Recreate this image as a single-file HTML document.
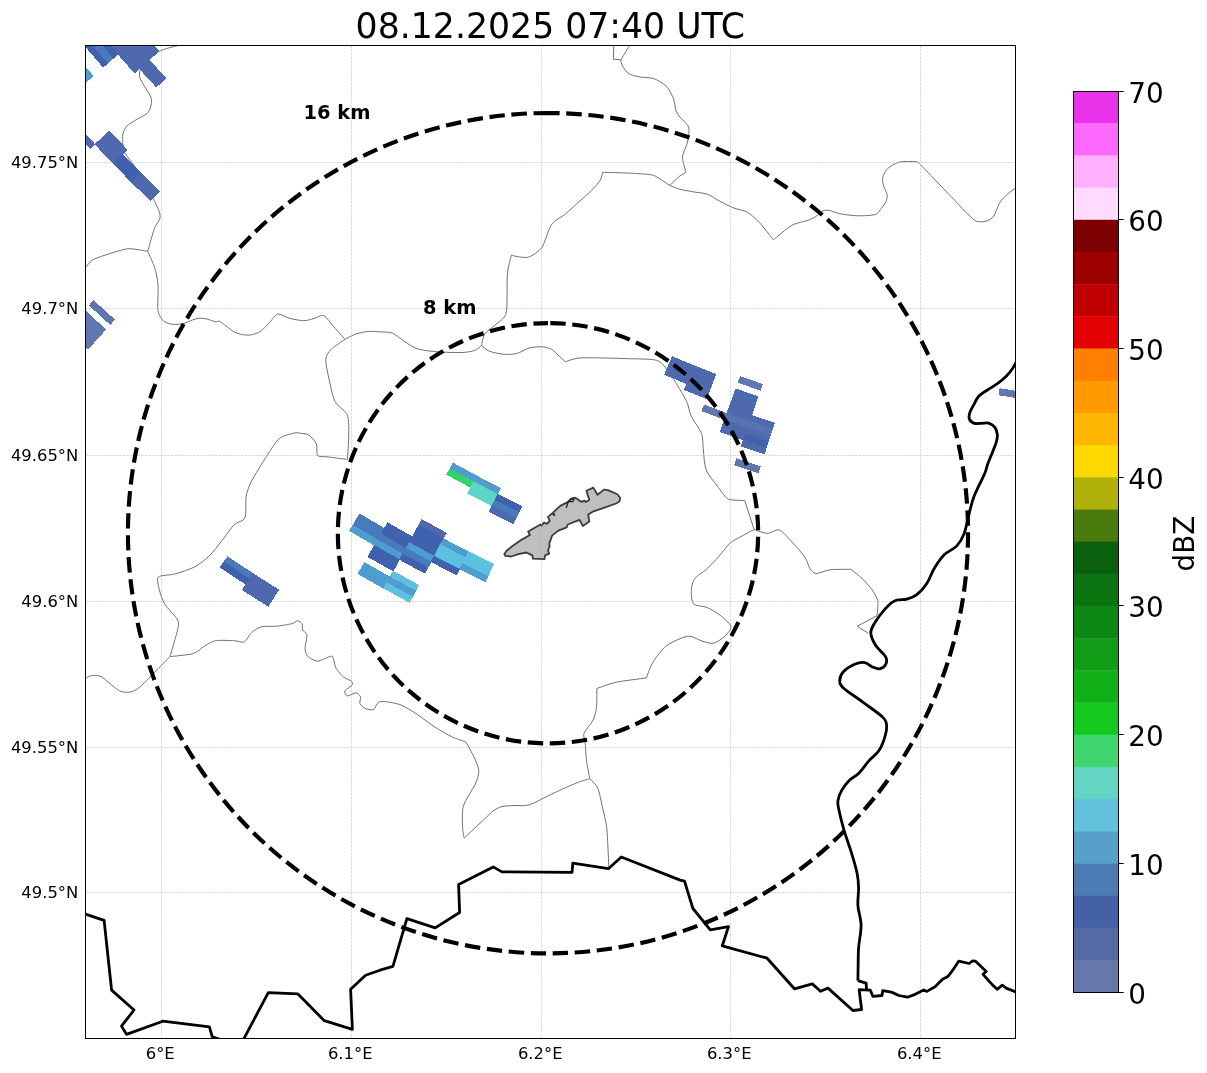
<!DOCTYPE html>
<html lang="en"><head><meta charset="utf-8"><title>08.12.2025 07:40 UTC</title>
<style>html,body{margin:0;padding:0;background:#fff}svg{display:block}text{font-family:'DejaVu Sans','Liberation Sans',sans-serif;fill:#000}</style></head><body>
<svg width="1207" height="1073" viewBox="0 0 1207 1073">
<rect width="1207" height="1073" fill="#fff"/>
<defs><clipPath id="ax"><rect x="85.5" y="45.5" width="930" height="993"/></clipPath></defs>
<text x="550.3" y="37.6" font-size="34.7" text-anchor="middle">08.12.2025 07:40 UTC</text>
<g clip-path="url(#ax)">
<g fill="none" stroke="#707070" stroke-width="1" stroke-linejoin="round">
<path d="M180.7 45 C178.6 45.5 168.5 47.8 165 49 C161.5 50.2 157.3 52.1 154.6 53.7 C151.9 55.3 146.8 59.2 145 61 C143.2 62.8 141.6 65.2 140.9 67.4 C140.2 69.6 139 74.5 139.7 77.3 C140.4 80.1 144.3 85.5 145.9 88.5 C147.5 91.5 151.3 96.6 151.6 99.7 C151.9 102.8 150.5 109.4 148.4 112.1 C146.3 114.8 138.7 118.1 135.8 120 C132.9 121.9 128.6 124.1 126.9 126 C125.2 127.9 123.4 131.5 122.9 134 C122.4 136.5 122.6 142.4 122.9 144.9 C123.2 147.4 123.2 149.8 124.9 152.9 C126.6 156 133.1 163.8 135.8 167.9 C138.5 172 142.6 179.7 145 184 C147.4 188.3 151.9 196.1 153.8 199.8 C155.7 203.5 158.5 209.2 159.3 211.7 C160.1 214.2 160.3 216.8 159.8 218.7 C159.3 220.6 156.7 224 155.8 225.7 C154.9 227.4 154.5 228.1 153.4 231.5 C152.3 234.9 148.5 248.7 147.7 251.4"/>
<path d="M147.7 251.4 C146.3 251.1 139.9 249.8 137 249.5 C134.1 249.2 130.3 248.2 126 249 C121.7 249.8 109.4 253.7 104.9 255.2 C100.4 256.7 95 258.4 92.4 260.1 C89.8 261.8 86.4 266.6 85.5 267.6"/>
<path d="M147.7 251.4 C148.6 253.6 153.2 263.1 154.6 267.6 C156 272.1 157.6 279.6 158 285 C158.4 290.4 157.6 303.8 157.8 307.9 C158 312 158.9 314 159.8 315.9 C160.7 317.8 162.8 320.8 164.7 321.9 C166.6 323 171.2 324.2 173.7 324.4 C176.2 324.6 181.2 324 183.7 323.4 C186.2 322.8 190.6 320.6 192.7 319.9 C194.8 319.2 197.5 318.3 199.4 318.2 C201.3 318.1 204.8 318.5 207 319 C209.2 319.5 214 321.6 215.6 321.9 C217.2 322.2 217.9 320.7 219.3 321.2 C220.7 321.7 224 324.6 226 326 C228 327.4 232.1 330.8 234.2 331.9 C236.3 333 240 334.1 242 334.5 C244 334.9 247.3 335.2 249.2 335.1 C251.1 335 254.3 334.1 256 333.5 C257.7 332.9 259.7 332.1 261.6 330.6 C263.5 329.1 267.8 324.2 270 322 C272.2 319.8 275.3 314.5 277.8 314 C280.3 313.5 285.5 317.3 289 318.2 C292.5 319.1 300.6 320.7 303.9 320.7 C307.2 320.7 311.3 319.2 314 318.5 C316.7 317.8 321.1 314.6 323.8 315.7 C326.5 316.8 331.2 323.9 334 327 C336.8 330.1 343.4 337.7 344.9 339.3"/>
<path d="M344.9 339.3 C346.4 338.6 352.9 335 356.1 333.9 C359.3 332.8 365.4 331.7 368.6 331.4 C371.8 331.1 376.8 331.7 380 331.9 C383.2 332.1 389.1 331.8 392.4 333.1 C395.7 334.4 401.6 339.7 404.9 341.8 C408.2 343.9 413 347.5 417.3 348.8 C421.6 350.1 431.2 351.3 437.2 351.8 C443.2 352.3 457.1 352.7 462.1 352.5 C467.1 352.3 471.9 351.4 474.5 350.5 C477.1 349.6 480.6 346.3 481.5 345.6"/>
<path d="M344.9 339.3 C343.1 340.6 333.7 346.6 331.2 349.3 C328.7 352 326.1 355.4 325.8 359.2 C325.5 363 327.6 372.3 328.8 377.9 C330 383.5 332.5 396.5 335 401.5 C337.5 406.5 345.6 410.5 347.4 415.2 C349.2 419.9 348.7 430.5 348.7 436.4 C348.7 442.3 347.6 456.4 347.4 459.5"/>
<path d="M347.4 459.5 C345.9 459.3 338.9 458.4 336.2 458 C333.5 457.6 329.5 457.1 327 456.8 C324.5 456.5 319 457.2 317.6 455.5 C316.2 453.8 317.5 446.5 316.3 443.8 C315.1 441.1 310.9 436.5 308.9 435.1 C306.9 433.7 303 433.6 301 433.3 C299 433 296.8 432.4 293.9 433.1 C291 433.8 282.6 435.7 279 438.8 C275.4 441.9 270.3 450.7 266.6 456.3 C262.9 461.9 254.3 475.8 251.6 481.1 C248.9 486.4 247.1 491.2 246.2 496.1 C245.3 501 246.5 514.1 244.9 517.9 C243.3 521.7 237.3 521.6 234.2 524.7 C231.1 527.8 225.1 536.7 221.8 540.8 C218.5 544.9 213.1 552.3 209.4 555.8 C205.7 559.3 199.1 564.6 194.4 567 C189.7 569.4 179.3 572.7 174.5 574 C169.7 575.3 160.5 575 158.4 577 C156.3 579 158.3 585.3 159.1 588.9 C159.9 592.5 162.2 599.9 164.6 603.9 C167 607.9 175.2 615.8 177 618.8 C178.8 621.8 178.6 623.2 178.3 626.2 C178 629.2 175.6 637.1 174.5 641.2 C173.4 645.3 170.6 654.5 170 656.6"/>
<path d="M170 656.6 C167.9 658.7 158.6 668.2 154.6 672.3 C150.6 676.4 143 684.5 139.7 687.2 C136.4 689.9 132.5 691.7 129.8 692.2 C127.1 692.7 122.5 692.1 119.8 690.9 C117.1 689.7 112.4 685.4 109.9 683.5 C107.4 681.6 103.4 677.6 101.1 676.5 C98.8 675.4 94.5 675.3 92.4 675.5 C90.3 675.7 86.4 677.7 85.5 678"/>
<path d="M170 656.6 C173.1 656.2 188.6 655 193.2 653.6 C197.8 652.2 201.4 647.8 204.4 646.1 C207.4 644.4 211.6 641.4 215.6 640.7 C219.6 640 230.4 640.5 234.2 640.7 C238 640.9 241.9 643 244.2 641.9 C246.5 640.8 249.3 634.5 251.6 632.5 C253.9 630.5 258.3 627.5 261.6 626.7 C264.9 625.9 272.5 626.6 276.5 626.2 C280.5 625.8 288.6 624.5 291.4 623.8 C294.2 623.1 296.3 620.8 297.7 620.8 C299.1 620.8 301.4 622.6 302.1 623.8 C302.8 625 302 628.5 302.6 630 C303.2 631.5 306.6 632.4 306.9 634.9 C307.2 637.4 305 645.8 305.1 648.6 C305.2 651.4 305.9 654.4 307.6 656.1 C309.3 657.8 314.5 661.1 317.6 661.1 C320.7 661.1 329.1 656.3 331.2 656.1 C333.3 655.9 333 658.1 333.7 659.8 C334.4 661.5 334.9 666.2 336.2 668.5 C337.5 670.8 341.7 675.5 343.7 677.2 C345.7 678.9 349.9 680 351.1 681 C352.3 682 353.2 683.4 352.4 684.7 C351.6 686 345.6 689.4 344.9 690.9 C344.2 692.4 345.9 695.6 347.4 695.9 C348.9 696.2 354.3 692.7 356.1 692.9 C357.9 693.1 360.1 695.7 360.6 697.1 C361.1 698.5 359.3 701.9 359.9 703.4 C360.5 704.9 363 707.5 364.8 708.3 C366.6 709.1 371.5 710.5 373.5 709.6 C375.5 708.7 376.5 702.3 380 701.6 C383.5 700.9 394.9 702.9 399.9 704.6 C404.9 706.3 412.7 711.5 417.3 714.5 C421.9 717.5 430.1 724 434.7 727 C439.3 730 448 734.9 452.1 736.9 C456.2 738.9 464 741.2 465.8 741.9 C467 744.1 472.8 754.3 474.5 758.1 C476.2 761.9 478.6 767.2 478.8 770.5 C479 773.8 477.5 779 475.8 783 C474.1 787 467.6 796.8 465.8 800.4 C464 804 463 806.7 462.6 810.3 C462.2 813.9 462.4 824 462.6 827.7 C462.8 831.4 463.9 836.8 464.1 838.2"/>
<path d="M464.1 838.2 C466.8 835.6 480.6 822.6 484.5 819 C488.4 815.4 490.7 812.7 493 811 C495.3 809.3 499 807.3 501.9 806.6 C504.8 805.9 511.3 805.7 515 805.5 C518.7 805.3 524.1 806.5 529.3 804.8 C534.5 803.1 547.8 795.8 554.1 792.9 C560.4 790 571.8 784.9 576.5 783 C581.2 781.1 587.9 779.3 589.7 778.7"/>
<path d="M589.7 778.7 C589.3 776.3 587.1 765.3 586.5 760.6 C585.9 755.9 585.5 746.9 585.2 743.2 C584.9 739.5 583 736.2 584 733.2 C585 730.2 591 724.1 592.7 720.8 C594.4 717.5 595.8 712.6 596.4 708.3 C597 704 596.8 691.1 596.9 688.4 C599.5 687.6 609.7 683.6 616.3 682.2 C622.9 680.8 642.2 678.6 646.2 678 C647.2 675.7 650.9 665.4 653.6 661.1 C656.3 656.8 662.6 649.1 666.1 646.1 C669.6 643.1 676.8 640 680 638.7 C683.2 637.4 687 635.9 690 636.2 C693 636.5 699.3 640.3 702.4 641.2 C705.5 642.1 710.6 643.9 713.6 643.2 C716.6 642.5 722.5 638.5 724.8 636.2 C727.1 633.9 731.7 629 731 626.2 C730.3 623.4 722.9 617.5 719.8 615 C716.7 612.5 710.9 609.1 707.4 607.6 C703.9 606.1 695.9 606.1 693.7 603.9 C691.5 601.7 691.2 594.6 691.2 591.4 C691.2 588.2 692.5 582.5 693.7 580.2 C694.9 577.9 698.4 575.3 699.9 574 C701.4 572.7 702.6 572.8 704.9 570.7 C707.2 568.6 714 561.9 717.3 558.2 C720.6 554.5 726.5 546.3 729.8 543.3 C733.1 540.3 739 537.7 742.2 535.9 C745.4 534.1 752.5 530.4 754.1 529.6"/>
<path d="M589.7 778.7 C590.8 779.9 596 784 597.7 787.9 C599.4 791.8 601.4 802.8 602.6 807.8 C603.8 812.8 605.7 820.8 606.4 825.2 C607.1 829.6 607.3 835.2 607.6 840.8 C607.9 846.4 608.7 863.4 608.9 866.9"/>
<path d="M613.8 45 L613.3 59.2 L620.8 59.9 C621.8 58.2 627.2 49.5 628.3 47.5 C629.4 45.5 628.7 45.3 628.8 45"/>
<path d="M620.8 59.9 C621 60.7 621.4 64.3 622.5 66.1 C623.6 67.9 626.6 72.2 628.8 73.6 C631 75 635.4 76.1 638.7 76.8 C642 77.5 649.9 77.4 653.6 78.6 C657.3 79.8 663.4 83.3 666.1 86 C668.8 88.7 672.2 95.2 673.5 98.5 C674.8 101.8 675.1 108.4 676 110.9 C676.9 113.4 678.3 114.9 680 117.1 C681.7 119.3 687.7 123.8 688.7 127.1 C689.7 130.4 688.3 138 687.5 142 C686.7 146 682.8 152.9 682.5 156.9 C682.2 160.9 685.8 169.3 685.5 171.8 C685.2 174.3 682.1 174 680 175.8 C677.9 177.6 671.2 184.2 669.8 185.5"/>
<path d="M481.5 345.6 C481.9 344.1 482.8 337.1 484.5 334.4 C486.2 331.7 491.7 328 494.4 325.7 C497.1 323.4 502.7 319.5 504.4 317 C506.1 314.5 506.5 312.8 506.9 307 C507.3 301.2 506.8 280.7 507.4 273.8 C508 266.9 510.8 257.7 511.3 255.2 C512.4 255.4 516.9 256.7 519.3 256.9 C521.7 257.1 526.3 258.1 529.3 256.9 C532.3 255.7 539 251.4 541.7 247.7 C544.4 244 547.5 232.6 549.2 229.1 C550.9 225.6 552 223.6 554.1 221.6 C556.2 219.6 562 216.8 565.3 214.1 C568.6 211.4 575.5 204.8 579 201.7 C582.5 198.6 588.6 193.3 591.4 190.5 C594.2 187.7 598.6 182.9 600.1 180.5 C601.6 178.1 602.3 173.4 602.6 172.3 C606.1 172.4 622.3 172.8 628.8 173.1 C635.3 173.4 647.1 174.1 651.1 174.8 C655.1 175.5 656.1 176.7 658.6 178.1 C661.1 179.5 668.3 184.5 669.8 185.5"/>
<path d="M669.8 185.5 C671.2 186 677 188.5 680 189.3 C683 190.1 688.7 191 692.4 191.7 C696.1 192.4 703.7 192.9 707.4 194.2 C711.1 195.5 716.3 199.4 719.8 201.2 C723.3 203 729.8 206.4 733.5 207.9 C737.2 209.4 743.7 210.1 747.2 212.1 C750.7 214.1 756.1 219.1 759.6 222.8 C763.1 226.5 771.5 237.5 773.3 239.8 C775.8 237.9 787.3 227.9 791.9 225.3 C796.5 222.7 804.9 221.5 808.1 220.3 C811.3 219.1 813.6 217.9 815.6 216.6 C817.6 215.3 821.2 211.7 823 210.9 C824.8 210.1 827.1 210 829.3 210.4 C831.5 210.8 835.9 212.9 839.2 213.6 C842.5 214.3 850.4 215.3 854.1 215.6 C857.8 215.9 863.6 215.8 866.6 215.6 C869.6 215.4 874.7 214.9 876.5 214.1 C878.3 213.3 878.8 211.5 880 209.9 C881.2 208.3 884.6 204.4 885.6 202.4 C886.6 200.4 887.5 197.2 887.2 195 C886.9 192.8 884.3 188.5 883.7 186.2 C883.1 183.9 882.2 179.8 882.7 177.5 C883.2 175.2 885.5 170.7 887.5 168.7 C889.5 166.7 895.2 163.7 897.5 162.7 C899.8 161.7 902.5 161.6 905 161.5 C907.5 161.4 914.5 161.5 916.2 161.6 C917.9 161.7 917.8 162.1 918.1 162.2"/>
<path d="M918.1 162.2 C921 165.2 933.4 178.1 940 185 C946.6 191.9 963.7 209.9 967.4 213.7"/>
<path d="M967.4 213.7 C968.6 214.7 973.7 220.2 976.2 221.2 C978.7 222.2 983.9 221.9 986.2 221.2 C988.5 220.5 991.8 218.7 993.6 216.2 C995.4 213.7 998.1 205.3 999.9 202.4 C1001.7 199.5 1005.3 196.2 1007.4 194.3 C1009.5 192.4 1014.4 188.9 1015.5 188.1"/>
<path d="M481.5 345.6 C482.6 346.4 486.4 350.1 489.5 351.3 C492.6 352.5 500.8 354 504.4 354.3 C508 354.6 513.5 354.3 516.8 353.5 C520.1 352.7 526 348.9 529.3 348 C532.6 347.1 538.7 346.6 541.7 346.8 C544.7 347 549.4 348.2 551.6 349.3 C553.8 350.4 556.2 353.3 558 355 C559.8 356.7 564.3 360.8 565.3 361.7 C567.1 361.2 573.9 358.5 579 358 C584.1 357.5 597.3 357.9 603.9 358 C610.5 358.1 622.2 358.5 628.8 358.7 C635.4 358.9 649.2 359 653.6 359.7 C658 360.4 659.5 361.2 662 363.6 C664.5 366 669.2 372.6 672.5 377.6 C675.8 382.6 683.9 395.8 686.4 400.9 C688.9 406 689.1 411.7 691.1 416 C693.1 420.3 700 429 701.6 433.5 C703.2 438 702.7 444.9 703.3 449.8 C703.9 454.7 704.3 465.2 706.2 470 C708.1 474.8 714.5 482.3 717.3 486.1 C720.1 489.9 724.8 496.6 727.3 498.5 C729.8 500.4 733.7 499.9 736 500.2 C738.3 500.5 743.5 500.5 744.7 500.5"/>
<path d="M744.7 500.5 L754.1 529.6"/>
<path d="M754.1 529.6 C755.8 530.1 763.7 533.3 767.1 533.4 C770.5 533.5 776.1 528.9 779.5 530.1 C782.9 531.3 789 538.8 792.4 542.4 C795.8 546 802.6 553.8 804.9 557.3 C807.2 560.8 808.4 566.3 809.9 568.5 C811.4 570.7 813.4 573.3 816.1 573.5 C818.8 573.7 825.2 570.4 829.8 569.8 C834.4 569.2 848.1 569.4 850.9 569.3"/>
<path d="M850.9 569.3 C852.4 570.5 859.3 575.8 862.1 578.5 C864.9 581.2 869.9 586.7 872 589.7 C874.1 592.7 877.1 597.4 877.8 600.9 C878.5 604.4 877.1 613.8 877 615.8"/>
<path d="M877 615.8 L857.1 626.2"/>
<path d="M857.1 626.2 L868.3 633.2"/>
</g>
<path d="M504.3 554.2 L506.6 550.7 L512.5 546 L521.8 539.6 L529.9 535 L528.2 531.5 L540.4 524.5 L541.6 525.7 L543.9 522.5 L546.8 523.9 L549.7 521 L548 516.9 L552.1 513.4 L554.4 515.2 L553.2 512.3 L560.2 505.9 L567.2 502.4 L571.9 498.3 L575.4 497.7 L581.2 501.8 L584.7 500.6 L585.8 502 L589.3 500 L586.4 490.7 L593.4 487.6 L597.5 494.8 L603.9 489.6 L608 490.1 L617.3 494.2 L620.2 497.7 L619.6 501.2 L616.1 503.5 L604.5 507.6 L592.8 511.7 L588.2 514.6 L589.3 521.6 L582.9 526 L579.4 519.8 L567.8 524.5 L566.6 527.4 L557.9 530.9 L552.1 535.6 L549.2 543.7 L549.7 546 L548 550.7 L549.2 553.6 L545.1 555.4 L544.5 559.1 L532.9 558.6 L532.3 555.4 L526.4 552.5 L518.3 554.2 L511.3 556.5 L505.5 555.9Z" fill="#bfbfbf" stroke="#3c3c3c" stroke-width="1.8" stroke-linejoin="round"/>
<path d="M566.3 507.8 L567.8 503 L570.7 499.1 L574 499.2 L572.8 501.8 L569.5 501.3" fill="none" stroke="#222" stroke-width="1.3"/>
<g stroke="#b0b0b0" stroke-opacity="0.62" stroke-width="0.75" stroke-dasharray="2.7 1.0" fill="none">
<path d="M161.5 45.5 V1038.5"/>
<path d="M351.5 45.5 V1038.5"/>
<path d="M541.5 45.5 V1038.5"/>
<path d="M730.5 45.5 V1038.5"/>
<path d="M920.5 45.5 V1038.5"/>
<path d="M85.5 162.5 H1015.5"/>
<path d="M85.5 308.5 H1015.5"/>
<path d="M85.5 455.5 H1015.5"/>
<path d="M85.5 601.5 H1015.5"/>
<path d="M85.5 747.5 H1015.5"/>
<path d="M85.5 892.5 H1015.5"/>
</g>
<g stroke="none" shape-rendering="crispEdges">
<path d="M142.8 32.4 L159.4 51.2 L134.6 73.5 L117.6 54.3Z" fill="#4e69ad"/>
<path d="M126.9 13.8 L143.1 32.8 L118 54.7 L101.3 35.2Z" fill="#4e69ad"/>
<path d="M149.2 59.5 L166.3 78.2 L156.3 87.5 L139.1 68.7Z" fill="#4e69ad"/>
<path d="M101.7 34.9 L118.4 54.4 L103.1 67.7 L86.2 47.9Z" fill="#4061ad"/>
<path d="M85.8 15.5 L102.1 35.3 L86.6 48.3 L70 28.2Z" fill="#4061ad"/>
<path d="M96.7 39.1 L113.4 58.7 L108.1 63.3 L91.2 43.6Z" fill="#477bbd"/>
<path d="M76.5 56 L93.6 76 L83.3 84.9 L66.1 64.8Z" fill="#4f9cd0"/>
<path d="M109.3 130.5 L127.7 149.9 L113.2 163.9 L94.5 144.3Z" fill="#4e69ad"/>
<path d="M122.5 154 L141.3 173.1 L131.7 182.8 L112.7 163.5Z" fill="#4061ad"/>
<path d="M140.9 172.7 L160 191.5 L150.5 201.3 L131.2 182.3Z" fill="#4e69ad"/>
<path d="M77.1 124.5 L95.3 144.4 L90.2 149.2 L71.8 129.2Z" fill="#4e69ad"/>
<path d="M93.6 300.1 L115 319.7 L110.3 325 L88.8 305.3Z" fill="#5f76b0"/>
<path d="M84.6 309.7 L106.2 329.5 L88.3 349.4 L66.4 329.3Z" fill="#5f76b0"/>
<path d="M227.4 556.2 L253.4 573.4 L249.6 579.3 L223.5 562Z" fill="#477bbd"/>
<path d="M223.8 561.6 L249.8 578.9 L246 584.8 L219.8 567.5Z" fill="#4061ad"/>
<path d="M252.8 573 L279.1 589.7 L268.4 606.8 L241.8 589.9Z" fill="#4e69ad"/>
<path d="M476.6 475.5 L501.1 488.3 L497.9 494.6 L473.3 481.8Z" fill="#4f9cd0"/>
<path d="M453 462.6 L477.2 475.8 L473.9 482.1 L449.5 468.8Z" fill="#4f9cd0"/>
<path d="M449.8 468.4 L474.1 481.6 L470.8 487.9 L446.3 474.6Z" fill="#32d46a"/>
<path d="M473.6 481.3 L498.1 494.1 L492 506.3 L467.1 493.4Z" fill="#5bd5c4"/>
<path d="M497.6 493.8 L522.4 506.2 L519.3 512.5 L494.4 500.1Z" fill="#4061ad"/>
<path d="M494.6 499.7 L519.5 512.1 L516.4 518.5 L491.4 506Z" fill="#477bbd"/>
<path d="M491.6 505.5 L516.6 518 L513.5 524.4 L488.4 511.8Z" fill="#4e69ad"/>
<path d="M359.5 513.5 L384.7 528.3 L377.9 540.1 L352.5 525.2Z" fill="#477bbd"/>
<path d="M352.7 524.8 L378.1 539.7 L374.6 545.8 L349.1 530.8Z" fill="#4f9cd0"/>
<path d="M387.4 522.3 L412.7 536.6 L406.1 548.6 L380.6 534.1Z" fill="#4061ad"/>
<path d="M380.8 533.7 L406.3 548.1 L402.9 554.3 L377.3 539.8Z" fill="#477bbd"/>
<path d="M377.5 539.4 L403.2 553.9 L399.7 560 L374 545.5Z" fill="#4f9cd0"/>
<path d="M374.2 545 L400 559.6 L393.4 571.5 L367.4 556.9Z" fill="#4061ad"/>
<path d="M364.4 562.1 L390.4 576.9 L383.8 588.8 L357.5 573.9Z" fill="#4f9cd0"/>
<path d="M421.7 519.1 L446.9 532.8 L443.6 539 L418.2 525.2Z" fill="#4e69ad"/>
<path d="M418.5 524.8 L443.9 538.6 L434.4 556.4 L408.7 542.5Z" fill="#4061ad"/>
<path d="M408.9 542 L434.6 556 L431.3 562.2 L405.5 548.2Z" fill="#4f9cd0"/>
<path d="M405.7 547.8 L431.5 561.8 L428.2 568 L402.3 554Z" fill="#477bbd"/>
<path d="M402.6 553.5 L428.4 567.6 L425.1 573.8 L399.1 559.7Z" fill="#4061ad"/>
<path d="M393 570.8 L419.2 585 L415.9 591.2 L389.6 576.9Z" fill="#5cc1e0"/>
<path d="M389.8 576.5 L416.1 590.8 L412.8 597 L386.4 582.7Z" fill="#4f9cd0"/>
<path d="M386.6 582.3 L413 596.6 L409.7 602.8 L383.2 588.4Z" fill="#5cc1e0"/>
<path d="M443.3 538.3 L468.9 551.6 L465.7 557.9 L439.9 544.5Z" fill="#4f9cd0"/>
<path d="M440.2 544.1 L465.9 557.4 L459.7 569.6 L433.8 556.1Z" fill="#5cc1e0"/>
<path d="M434 555.7 L459.9 569.2 L456.7 575.5 L430.7 561.9Z" fill="#4061ad"/>
<path d="M468.3 551.3 L494.1 564.2 L488.1 576.4 L462.1 563.4Z" fill="#5cc1e0"/>
<path d="M462.3 563 L488.3 576 L485.3 582.3 L459.1 569.3Z" fill="#4f9cd0"/>
<path d="M740.1 376 L762.8 384.1 L760.5 390.7 L737.7 382.7Z" fill="#5f76b0"/>
<path d="M693.8 365.2 L716.3 374.1 L706.7 399.1 L683.8 390Z" fill="#4e69ad"/>
<path d="M672 356.2 L694.4 365.4 L686.8 384.2 L664.1 374.7Z" fill="#4e69ad"/>
<path d="M735.6 388.4 L758.5 396.5 L756.2 403.2 L733.2 395Z" fill="#4a6ab4"/>
<path d="M733.4 394.5 L756.4 402.7 L749.8 421.8 L726.4 413.5Z" fill="#4e69ad"/>
<path d="M726.6 413 L749.9 421.3 L747.6 428 L724.2 419.7Z" fill="#5873b4"/>
<path d="M724.4 419.2 L747.8 427.5 L743.3 440.4 L719.7 432Z" fill="#4e69ad"/>
<path d="M751.5 414.9 L774.9 422.8 L772.7 429.5 L749.2 421.6Z" fill="#4e69ad"/>
<path d="M749.4 421.1 L772.9 429 L770.7 435.7 L747.1 427.8Z" fill="#5873b4"/>
<path d="M747.2 427.3 L770.8 435.3 L768.6 442 L744.9 434Z" fill="#4e69ad"/>
<path d="M745.1 433.6 L768.8 441.5 L766.6 448.2 L742.8 440.2Z" fill="#4061ad"/>
<path d="M742.9 439.8 L766.7 447.8 L764.6 454.5 L740.6 446.4Z" fill="#4e69ad"/>
<path d="M704 404.5 L727.2 413.2 L724.7 419.9 L701.4 411.1Z" fill="#5f76b0"/>
<path d="M736.5 458.4 L760.6 466.5 L758.5 473.2 L734.2 465.1Z" fill="#5f76b0"/>
<path d="M999.6 388.3 L1022.4 391.7 L1021.4 398.7 L998.5 395.3Z" fill="#5f76b0"/>
</g>
<g fill="none" stroke="#000" stroke-width="2.8" stroke-linejoin="round" stroke-linecap="butt">
<path d="M85.5 914.2 L104.1 920.4 L111.6 990.1 L134 1010 L121.5 1026.1 L126.5 1034.4 L162.8 1021.2 L209.4 1026.9 L212.3 1036.8 L222 1040"/>
<path d="M243.2 1040 L268.3 992.6 L297.7 993.8 L324.3 1020.7 L352.4 1029.4 L350.6 989.3 L365.6 975.2 L380 970.2 L392.9 966.4 L406.9 918.7 L435.2 927.9 L459.6 912.5 L458.6 884.4 L493.2 866.9 L501.9 871.9 L572 872.4 L572.8 863.2 L608.4 868.7 L621.3 857 L680.2 880.1 L684.5 881.1 L692.9 908.5 L710.3 929.9 L728.5 926.6 L722.3 945.8 L767.1 958.2 L794.4 988.8 L812.3 983.9 L820.5 991.3 L828 988.1 L852.9 1010.5 L861.6 1009.5 L859.1 989.6 L870.3 990.1 L872.8 996.3 L882 995.5 L882.7 990.6 L891.4 992.1 L898.9 995.5 L907.5 997.2 L913.7 994.9 L923.7 989.9 L926.9 991.4 L935 986.8 L942.5 979.3 L947.5 976.8 L952.5 970.6 L958.7 961.2 L969.3 963.5 L972.4 961 L975.6 961.2 L986.2 971.5 L983.1 974.3 L992.4 984.9 L997.2 989.3 L1002.2 985.2 L1006.2 988.1 L1017 992.4"/>
<path d="M1017 360.5 C1016.2 361.9 1014.2 366.1 1012.4 368.7 C1010.6 371.3 1008.7 373.7 1006.2 376.2 C1003.7 378.7 1000.5 381.4 997.4 383.7 C994.3 386 990.5 387.9 987.4 390 C984.3 392.1 981 393.7 978.7 396.2 C976.4 398.7 975.2 402.2 973.7 404.9 C972.2 407.6 970.6 410.1 969.9 412.4 C969.2 414.7 968.7 416.9 969.3 418.7 C969.9 420.5 971.7 422.3 973.7 423.1 C975.7 423.9 978.7 423.4 981.2 423.4 C983.7 423.4 986.4 422.4 988.7 423.1 C991 423.8 993.5 425.4 994.9 427.4 C996.3 429.4 997.2 432.4 997.4 434.9 C997.6 437.4 997 439.5 996.2 442.4 C995.4 445.3 993.9 448.6 992.4 452.4 C990.9 456.1 988.7 461.3 987.4 464.9 C986.1 468.5 986.7 468.8 984.5 474 C982.3 479.2 976.6 489.8 974 496.4 C971.4 503 970.8 507.6 969.1 513.8 C967.5 520 966.2 528.3 964.1 533.7 C962 539.1 959.9 542.6 956.6 546.1 C953.3 549.6 947.9 551.1 944.2 554.8 C940.5 558.5 937.1 563.7 934.2 568.5 C931.3 573.3 929.7 579.1 926.8 583.5 C923.9 587.9 920.1 592 916.8 594.6 C913.5 597.2 910.6 598.1 906.9 599.1 C903.2 600.1 898.1 599.1 894.4 600.9 C890.7 602.6 887.8 605.9 884.5 609.6 C881.2 613.3 876.8 619.4 874.5 623.3 C872.2 627.2 870.6 629.5 870.8 633.2 C871 636.9 873.3 641.7 875.8 645.6 C878.3 649.5 884.1 653.7 885.7 656.8 C887.4 659.9 886.7 662.3 885.7 664.3 C884.7 666.3 881.8 668.4 879.5 668.8 C877.2 669.2 874.5 667.8 872 666.8 C869.5 665.8 867.5 663 864.6 662.6 C861.7 662.2 858.1 662.8 854.6 664.3 C851.1 665.8 845.9 669.1 843.4 671.8 C840.9 674.5 839.7 677.8 839.7 680.5 C839.7 683.2 839.7 684.4 843.4 687.9 C847.1 691.4 855.7 696.8 862.1 701.6 C868.5 706.4 877.9 712.7 882 716.5 C886.1 720.3 886 721.3 886.5 724.5 C887 727.7 886.5 731.4 885.2 735.7 C884 740.1 881.7 746.5 879 750.6 C876.3 754.8 872.4 756.9 869.1 760.6 C865.8 764.3 862.4 769.7 859.1 773 C855.8 776.3 852.1 777.6 849.2 780.5 C846.3 783.4 843.6 787.1 841.7 790.4 C839.8 793.7 838.5 797.5 838 800.4 C837.5 803.3 837.5 802.9 838.5 808 C839.5 813.1 842 823.4 844.2 830.9 C846.4 838.4 849.5 846.2 851.6 853.3 C853.8 860.3 855.9 867.4 857.1 873.2 C858.3 879 858.5 882.7 858.6 888.1 C858.7 893.5 857.5 899.3 857.9 905.5 C858.3 911.7 861 918.4 861.1 925.4 C861.2 932.4 859.1 940.8 858.6 947.8 C858.1 954.8 858.2 962.2 858.1 967.7 C858 973.2 857.9 978.5 857.9 980.6"/>
<path d="M857.9 980.6 L866.1 983.1 L866.6 989.9"/>
</g>
<g fill="none" stroke="#000" stroke-width="4.17" stroke-dasharray="15.417 6.667" stroke-dashoffset="0.8">
<path d="M548.000 113.000 A420.200 420.200 0 0 0 548.000 953.400 A420.200 420.200 0 0 0 548.000 113.000"/>
<path d="M548.000 323.050 A210.150 210.150 0 0 0 548.000 743.350 A210.150 210.150 0 0 0 548.000 323.050"/>
</g>
<text x="303.5" y="118.6" font-size="19.44" font-weight="bold">16 km</text>
<text x="423" y="313.6" font-size="19.44" font-weight="bold">8 km</text>
</g>
<rect x="85.5" y="45.5" width="930" height="993" fill="none" stroke="#000" stroke-width="1"/>
<text x="160.2" y="1059.2" font-size="16.4" text-anchor="middle">6°E</text>
<text x="350.2" y="1059.2" font-size="16.4" text-anchor="middle">6.1°E</text>
<text x="540.2" y="1059.2" font-size="16.4" text-anchor="middle">6.2°E</text>
<text x="729.2" y="1059.2" font-size="16.4" text-anchor="middle">6.3°E</text>
<text x="919.2" y="1059.2" font-size="16.4" text-anchor="middle">6.4°E</text>
<text x="78.3" y="167.8" font-size="16.4" text-anchor="end">49.75°N</text>
<text x="78.3" y="313.8" font-size="16.4" text-anchor="end">49.7°N</text>
<text x="78.3" y="460.8" font-size="16.4" text-anchor="end">49.65°N</text>
<text x="78.3" y="606.8" font-size="16.4" text-anchor="end">49.6°N</text>
<text x="78.3" y="752.8" font-size="16.4" text-anchor="end">49.55°N</text>
<text x="78.3" y="897.8" font-size="16.4" text-anchor="end">49.5°N</text>
<rect x="1073.5" y="91.10" width="45" height="32.58" fill="#eb32eb"/>
<rect x="1073.5" y="123.28" width="45" height="32.58" fill="#fd69fd"/>
<rect x="1073.5" y="155.46" width="45" height="32.58" fill="#ffb0ff"/>
<rect x="1073.5" y="187.64" width="45" height="32.58" fill="#ffdcff"/>
<rect x="1073.5" y="219.81" width="45" height="32.58" fill="#7d0000"/>
<rect x="1073.5" y="251.99" width="45" height="32.58" fill="#9e0000"/>
<rect x="1073.5" y="284.17" width="45" height="32.58" fill="#c00000"/>
<rect x="1073.5" y="316.35" width="45" height="32.58" fill="#e40000"/>
<rect x="1073.5" y="348.53" width="45" height="32.58" fill="#ff7f00"/>
<rect x="1073.5" y="380.71" width="45" height="32.58" fill="#ff9b00"/>
<rect x="1073.5" y="412.89" width="45" height="32.58" fill="#ffb600"/>
<rect x="1073.5" y="445.06" width="45" height="32.58" fill="#ffd800"/>
<rect x="1073.5" y="477.24" width="45" height="32.58" fill="#afb10a"/>
<rect x="1073.5" y="509.42" width="45" height="32.58" fill="#4a7a0c"/>
<rect x="1073.5" y="541.60" width="45" height="32.58" fill="#0a600e"/>
<rect x="1073.5" y="573.78" width="45" height="32.58" fill="#0c7410"/>
<rect x="1073.5" y="605.96" width="45" height="32.58" fill="#0e8814"/>
<rect x="1073.5" y="638.14" width="45" height="32.58" fill="#109c16"/>
<rect x="1073.5" y="670.31" width="45" height="32.58" fill="#12b018"/>
<rect x="1073.5" y="702.49" width="45" height="32.58" fill="#14c81c"/>
<rect x="1073.5" y="734.67" width="45" height="32.58" fill="#3fd56f"/>
<rect x="1073.5" y="766.85" width="45" height="32.58" fill="#62d6c2"/>
<rect x="1073.5" y="799.03" width="45" height="32.58" fill="#64c1dc"/>
<rect x="1073.5" y="831.21" width="45" height="32.58" fill="#589fc9"/>
<rect x="1073.5" y="863.39" width="45" height="32.58" fill="#4b7cb5"/>
<rect x="1073.5" y="895.56" width="45" height="32.58" fill="#4561a5"/>
<rect x="1073.5" y="927.74" width="45" height="32.58" fill="#546aa5"/>
<rect x="1073.5" y="959.92" width="45" height="32.58" fill="#6677a9"/>
<rect x="1073.5" y="91.5" width="45" height="901" fill="none" stroke="#000" stroke-width="1"/>
<path d="M1118.5 992.5 h5.2" stroke="#000" stroke-width="1"/>
<text x="1128.3" y="1003.60" font-size="27.8">0</text>
<path d="M1118.5 863.5 h5.2" stroke="#000" stroke-width="1"/>
<text x="1128.3" y="874.89" font-size="27.8">10</text>
<path d="M1118.5 734.5 h5.2" stroke="#000" stroke-width="1"/>
<text x="1128.3" y="746.17" font-size="27.8">20</text>
<path d="M1118.5 605.5 h5.2" stroke="#000" stroke-width="1"/>
<text x="1128.3" y="617.46" font-size="27.8">30</text>
<path d="M1118.5 477.5 h5.2" stroke="#000" stroke-width="1"/>
<text x="1128.3" y="488.74" font-size="27.8">40</text>
<path d="M1118.5 348.5 h5.2" stroke="#000" stroke-width="1"/>
<text x="1128.3" y="360.03" font-size="27.8">50</text>
<path d="M1118.5 219.5 h5.2" stroke="#000" stroke-width="1"/>
<text x="1128.3" y="231.31" font-size="27.8">60</text>
<path d="M1118.5 91.5 h5.2" stroke="#000" stroke-width="1"/>
<text x="1128.3" y="102.60" font-size="27.8">70</text>
<text transform="translate(1193.5 543.5) rotate(-90)" font-size="27.8" text-anchor="middle">dBZ</text>
</svg></body></html>
